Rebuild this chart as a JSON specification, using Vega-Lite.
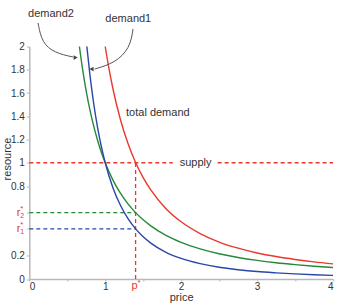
{
  "$schema": "https://vega.github.io/schema/vega-lite/v6.json",
  "width": 303.7,
  "height": 232.5,
  "autosize": "none",
  "padding": {"left": 29.3, "top": 46.5, "right": 5, "bottom": 27},
  "background": "white",
  "config": {
    "view": {"stroke": null},
    "font": "Liberation Sans",
    "axis": {
      "grid": false,
      "labelFont": "Liberation Sans",
      "labelFontSize": 10,
      "labelColor": "#333333",
      "titleFont": "Liberation Sans",
      "titleFontSize": 11,
      "titleFontWeight": "normal",
      "titleColor": "#333333",
      "domainColor": "#b8b8b8",
      "domainWidth": 1.5,
      "tickColor": "#b8b8b8",
      "tickSize": 3,
      "labelPadding": 2
    }
  },
  "datasets": {
    "curves": [
      {"p": 0.66, "resource": 2.0, "series": "demand2"},
      {"p": 0.7, "resource": 1.812, "series": "demand2"},
      {"p": 0.75, "resource": 1.615, "series": "demand2"},
      {"p": 0.8, "resource": 1.45, "series": "demand2"},
      {"p": 0.85, "resource": 1.311, "series": "demand2"},
      {"p": 0.9, "resource": 1.192, "series": "demand2"},
      {"p": 0.95, "resource": 1.089, "series": "demand2"},
      {"p": 1.0, "resource": 1.0, "series": "demand2"},
      {"p": 1.1, "resource": 0.853, "series": "demand2"},
      {"p": 1.2, "resource": 0.738, "series": "demand2"},
      {"p": 1.3, "resource": 0.646, "series": "demand2"},
      {"p": 1.4, "resource": 0.571, "series": "demand2"},
      {"p": 1.5, "resource": 0.509, "series": "demand2"},
      {"p": 1.6, "resource": 0.457, "series": "demand2"},
      {"p": 1.8, "resource": 0.375, "series": "demand2"},
      {"p": 2.0, "resource": 0.315, "series": "demand2"},
      {"p": 2.25, "resource": 0.259, "series": "demand2"},
      {"p": 2.5, "resource": 0.217, "series": "demand2"},
      {"p": 2.75, "resource": 0.185, "series": "demand2"},
      {"p": 3.0, "resource": 0.16, "series": "demand2"},
      {"p": 3.25, "resource": 0.14, "series": "demand2"},
      {"p": 3.5, "resource": 0.124, "series": "demand2"},
      {"p": 3.75, "resource": 0.11, "series": "demand2"},
      {"p": 4.0, "resource": 0.099, "series": "demand2"},
      {"p": 0.758, "resource": 2.0, "series": "demand1"},
      {"p": 0.8, "resource": 1.747, "series": "demand1"},
      {"p": 0.85, "resource": 1.501, "series": "demand1"},
      {"p": 0.9, "resource": 1.301, "series": "demand1"},
      {"p": 0.95, "resource": 1.137, "series": "demand1"},
      {"p": 1.0, "resource": 1.0, "series": "demand1"},
      {"p": 1.1, "resource": 0.788, "series": "demand1"},
      {"p": 1.2, "resource": 0.634, "series": "demand1"},
      {"p": 1.3, "resource": 0.519, "series": "demand1"},
      {"p": 1.4, "resource": 0.431, "series": "demand1"},
      {"p": 1.5, "resource": 0.363, "series": "demand1"},
      {"p": 1.6, "resource": 0.309, "series": "demand1"},
      {"p": 1.8, "resource": 0.23, "series": "demand1"},
      {"p": 2.0, "resource": 0.177, "series": "demand1"},
      {"p": 2.25, "resource": 0.132, "series": "demand1"},
      {"p": 2.5, "resource": 0.101, "series": "demand1"},
      {"p": 2.75, "resource": 0.08, "series": "demand1"},
      {"p": 3.0, "resource": 0.064, "series": "demand1"},
      {"p": 3.25, "resource": 0.053, "series": "demand1"},
      {"p": 3.5, "resource": 0.044, "series": "demand1"},
      {"p": 3.75, "resource": 0.037, "series": "demand1"},
      {"p": 4.0, "resource": 0.031, "series": "demand1"},
      {"p": 1.0, "resource": 2.0, "series": "total demand"},
      {"p": 1.05, "resource": 1.807, "series": "total demand"},
      {"p": 1.1, "resource": 1.641, "series": "total demand"},
      {"p": 1.2, "resource": 1.372, "series": "total demand"},
      {"p": 1.3, "resource": 1.165, "series": "total demand"},
      {"p": 1.4, "resource": 1.002, "series": "total demand"},
      {"p": 1.5, "resource": 0.872, "series": "total demand"},
      {"p": 1.6, "resource": 0.766, "series": "total demand"},
      {"p": 1.8, "resource": 0.605, "series": "total demand"},
      {"p": 2.0, "resource": 0.492, "series": "total demand"},
      {"p": 2.25, "resource": 0.391, "series": "total demand"},
      {"p": 2.5, "resource": 0.318, "series": "total demand"},
      {"p": 2.75, "resource": 0.265, "series": "total demand"},
      {"p": 3.0, "resource": 0.224, "series": "total demand"},
      {"p": 3.25, "resource": 0.193, "series": "total demand"},
      {"p": 3.5, "resource": 0.168, "series": "total demand"},
      {"p": 3.75, "resource": 0.147, "series": "total demand"},
      {"p": 4.0, "resource": 0.13, "series": "total demand"}
    ],
    "guides": [
      {"x": 0, "x2": 1.89, "y": 1, "y2": 1, "series": "supply"},
      {"x": 2.48, "x2": 4, "y": 1, "y2": 1, "series": "supply"},
      {"x": 1.4, "x2": 1.4, "y": 0, "y2": 1, "series": "supply"},
      {"x": 0, "x2": 1.4, "y": 0.571, "y2": 0.571, "series": "demand2"},
      {"x": 0, "x2": 1.4, "y": 0.431, "y2": 0.431, "series": "demand1"}
    ],
    "arrows": [
      {"x": 0.115, "y": 2.202, "order": 1, "arrow": "demand2"},
      {"x": 0.167, "y": 2.03, "order": 2, "arrow": "demand2"},
      {"x": 0.338, "y": 1.944, "order": 3, "arrow": "demand2"},
      {"x": 0.575, "y": 1.91, "order": 4, "arrow": "demand2"},
      {"x": 1.366, "y": 2.151, "order": 1, "arrow": "demand1"},
      {"x": 1.327, "y": 1.987, "order": 2, "arrow": "demand1"},
      {"x": 1.129, "y": 1.858, "order": 3, "arrow": "demand1"},
      {"x": 0.86, "y": 1.806, "order": 4, "arrow": "demand1"}
    ],
    "heads_right": [{"x": 0.61, "y": 1.905}],
    "heads_left": [{"x": 0.82, "y": 1.806}],
    "centerLabels": [
      {"x": 0.286, "y": 2.28, "text": "demand2"},
      {"x": 1.304, "y": 2.234, "text": "demand1"},
      {"x": 2.19, "y": 1, "text": "supply"}
    ],
    "leftLabels": [{"x": 1.274, "y": 1.425, "text": "total demand"}],
    "rLabels": [
      {"x": 0, "y": 0.571, "sub": "2"},
      {"x": 0, "y": 0.431, "sub": "1"}
    ],
    "pLabel": [{"x": 1.4, "y": 0}]
  },
  "encoding": {
    "x": {
      "field": "x",
      "type": "quantitative",
      "scale": {"domain": [0, 4], "nice": false, "zero": false},
      "axis": {
        "title": "price",
        "values": [0, 0.5, 1, 1.5, 2, 2.5, 3, 3.5, 4],
        "labelExpr": "datum.value % 1 == 0 ? format(datum.value, 'd') : ''",
        "tickSize": 2,
        "labelPadding": 0,
        "titleY": 12,
        "titleBaseline": "top"
      }
    },
    "y": {
      "field": "y",
      "type": "quantitative",
      "scale": {"domain": [0, 2], "nice": false},
      "axis": {
        "title": "resource",
        "values": [0, 0.2, 0.431, 0.571, 0.8, 1, 1.2, 1.4, 1.6, 1.8, 2],
        "labelExpr": "(datum.value == 0.431 || datum.value == 0.571) ? '' : format(datum.value, '~g')",
        "titleX": -19,
        "titleY": 112,
        "titleBaseline": "alphabetic"
      }
    }
  },
  "layer": [
    {
      "data": {"name": "guides"},
      "mark": {"type": "rule", "strokeDash": [4, 3], "strokeWidth": 1.3},
      "encoding": {
        "x2": {"field": "x2"},
        "y2": {"field": "y2"},
        "color": {
          "field": "series",
          "type": "nominal",
          "scale": {"domain": ["demand1", "demand2", "total demand", "supply"], "range": ["#2a46a8", "#24893a", "#e8392b", "#e8392b"]},
          "legend": null
        }
      }
    },
    {
      "data": {"name": "curves"},
      "mark": {"type": "line", "strokeWidth": 1.4, "interpolate": "monotone"},
      "encoding": {
        "x": {"field": "p", "type": "quantitative"},
        "y": {"field": "resource", "type": "quantitative"},
        "color": {
          "field": "series",
          "type": "nominal",
          "scale": {"domain": ["demand1", "demand2", "total demand", "supply"], "range": ["#2a46a8", "#24893a", "#e8392b", "#e8392b"]},
          "legend": null
        }
      }
    },
    {
      "data": {"name": "arrows"},
      "mark": {"type": "line", "interpolate": "basis", "color": "#555555", "strokeWidth": 1},
      "encoding": {
        "detail": {"field": "arrow"},
        "order": {"field": "order", "type": "quantitative"}
      }
    },
    {
      "data": {"name": "heads_right"},
      "mark": {"type": "point", "shape": "triangle-right", "filled": true, "color": "#444444", "size": 22, "opacity": 1},
      "encoding": {}
    },
    {
      "data": {"name": "heads_left"},
      "mark": {"type": "point", "shape": "triangle-left", "filled": true, "color": "#444444", "size": 22, "opacity": 1},
      "encoding": {}
    },
    {
      "data": {"name": "centerLabels"},
      "mark": {"type": "text", "align": "center", "baseline": "middle", "fontSize": 11, "color": "#333333", "font": "Liberation Sans"},
      "encoding": {"text": {"field": "text"}}
    },
    {
      "data": {"name": "leftLabels"},
      "mark": {"type": "text", "align": "left", "baseline": "middle", "fontSize": 11, "color": "#333333", "font": "Liberation Sans"},
      "encoding": {"text": {"field": "text"}}
    },
    {
      "data": {"name": "rLabels"},
      "mark": {"type": "text", "text": "r", "align": "right", "baseline": "middle", "fontSize": 11, "dx": -9, "color": "#e8392b", "font": "Liberation Sans"},
      "encoding": {}
    },
    {
      "data": {"name": "rLabels"},
      "mark": {"type": "text", "text": "*", "align": "left", "baseline": "middle", "fontSize": 8, "dx": -9, "dy": -4, "color": "#e8392b", "font": "Liberation Sans"},
      "encoding": {}
    },
    {
      "data": {"name": "rLabels"},
      "mark": {"type": "text", "align": "left", "baseline": "middle", "fontSize": 7, "dx": -9, "dy": 3, "color": "#e8392b", "font": "Liberation Sans"},
      "encoding": {"text": {"field": "sub"}}
    },
    {
      "data": {"name": "pLabel"},
      "mark": {"type": "text", "text": "p", "align": "center", "baseline": "top", "fontSize": 11, "dy": 1, "dx": -1, "color": "#e8392b", "font": "Liberation Sans"},
      "encoding": {}
    },
    {
      "data": {"name": "pLabel"},
      "mark": {"type": "text", "text": "*", "align": "left", "baseline": "top", "fontSize": 8, "dy": 0, "dx": 2, "color": "#e8392b", "font": "Liberation Sans"},
      "encoding": {}
    }
  ]
}
